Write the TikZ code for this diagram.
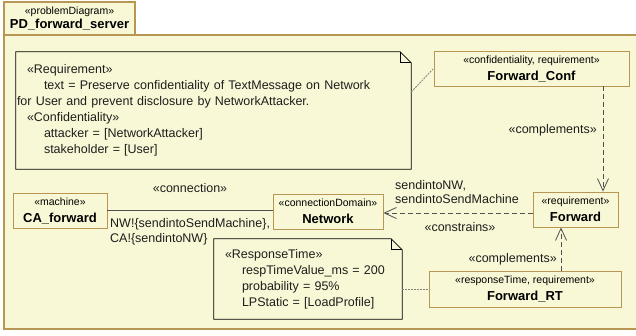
\documentclass[tikz,border=0pt]{standalone}
\usepackage{fontspec}
\setmainfont{Liberation Sans}
\usetikzlibrary{arrows.meta,calc}

\definecolor{paper}{RGB}{248,248,214}
\definecolor{gold}{RGB}{184,150,84}
\definecolor{ink}{RGB}{30,30,30}
\definecolor{linkgrey}{RGB}{80,80,80}

\newcommand\stereofont{\fontsize{10.5}{11}\selectfont}
\newcommand\namefont{\fontsize{13}{14}\selectfont\bfseries}
\newcommand\labelfont{\fontsize{12.5}{14.5}\selectfont}
\newcommand\notefont{\fontsize{12.5}{16}\selectfont}

% dog-eared note outline around a named node
\newcommand\noteoutline[1]{%
  \draw[noteedge] (#1.north west) -- ([xshift=-11pt]#1.north east)
    -- ([yshift=-11pt]#1.north east) -- (#1.south east) -- (#1.south west) -- cycle;
  \draw[noteedge] ([xshift=-11pt]#1.north east) -- ([xshift=-11pt,yshift=-11pt]#1.north east)
    -- ([yshift=-11pt]#1.north east);}

\tikzset{
  block/.style={draw=gold, fill=paper, line width=0.9pt, inner sep=0pt, align=center, text=black},
  notebody/.style={inner sep=0pt, align=left, text=ink, font=\notefont},
  noteedge/.style={draw=black, line width=0.8pt},
  tag/.style={font=\labelfont, inner sep=0pt, align=left, text=ink},
  dep/.style={draw=linkgrey, line width=0.8pt, dash pattern=on 5pt off 3pt,
    -{Straight Barb[length=12pt,width=11pt,line width=0.8pt]}},
  anchorlink/.style={draw=gray, line width=0.8pt, dash pattern=on 2pt off 1pt},
  assoc/.style={draw=linkgrey, line width=0.9pt}
}

\begin{document}
\begin{tikzpicture}[x=1pt, y=-1pt]
\useasboundingbox (0,0) rectangle (636,335);
\fill[white] (0,0) rectangle (636,335);

% diagram frame and its name tab
\fill[paper] (4,35) rectangle (636,329);
\draw[gold, line width=1.2pt] (636,35) -- (4,35) -- (4,329) -- (636,329);
\node[block, line width=1.2pt, minimum width=131, minimum height=33] (tab) at (69.5,18.5)
  {{\stereofont «problemDiagram»}\\[2pt]{\namefont PD\_forward\_server}};

% requirement note
\node[notebody, minimum width=395, minimum height=117, text width=393] (req) at (213.5,110.5)
  {\hspace*{10pt}«Requirement»\\
   \hspace*{27pt}text = Preserve confidentiality of TextMessage on Network\\
   for User and prevent disclosure by NetworkAttacker.\\
   \hspace*{10pt}«Confidentiality»\\
   \hspace*{27pt}attacker = [NetworkAttacker]\\
   \hspace*{27pt}stakeholder = [User]};
\noteoutline{req}

% response-time note
\node[notebody, minimum width=188, minimum height=80, text width=186] (rt) at (308,279)
  {\hspace*{10pt}«ResponseTime»\\
   \hspace*{27pt}respTimeValue\_ms = 200\\
   \hspace*{27pt}probability = 95\%\\
   \hspace*{27pt}LPStatic = [LoadProfile]};
\noteoutline{rt}

% classifiers
\node[block, minimum width=195, minimum height=35] (fconf) at (531.5,68.5)
  {{\stereofont «confidentiality, requirement»}\\[5pt]{\namefont Forward\_Conf}};
\node[block, minimum width=85, minimum height=35] (fwd) at (575.5,209.5)
  {{\stereofont «requirement»}\\[5pt]{\namefont Forward}};
\node[block, minimum width=110, minimum height=35] (net) at (328,211.5)
  {{\stereofont «connectionDomain»}\\[5pt]{\namefont Network}};
\node[block, minimum width=94, minimum height=35] (ca) at (60,210.5)
  {{\stereofont «machine»}\\[5pt]{\namefont CA\_forward}};
\node[block, minimum width=192, minimum height=36] (frt) at (525,289)
  {{\stereofont «responseTime, requirement»}\\[5pt]{\namefont Forward\_RT}};

% connection between machine and domain
\draw[assoc] (ca.east) -- (ca.east -| net.west);
\node[tag, anchor=center] (lconn) at (190,188) {«connection»};
\node[tag, anchor=west, text depth=0pt] (lph) at (110,230.5)
  {NW!\{sendintoSendMachine\},\\CA!\{sendintoNW\}};

% constrains dependency
\coordinate (cy) at (0,213);
\draw[dep] (fwd.west |- cy) -- (net.east |- cy);
\node[tag, anchor=west] (lsend) at (395,192) {sendintoNW,\\sendintoSendMachine};
\node[tag, anchor=center] (lcons) at (460,227) {«constrains»};

% complements dependencies
\coordinate (ux) at (603,0);
\draw[dep] (fconf.south -| ux) -- (fwd.north -| ux);
\node[tag, anchor=east] (lcomp1) at (597,130) {«complements»};
\coordinate (vx) at (561,0);
\draw[dep] (frt.north -| vx) -- (fwd.south -| vx);
\node[tag, anchor=east] (lcomp2) at (557,259) {«complements»};

% note anchors
\coordinate (ry) at (0,92);
\draw[anchorlink] (req.east |- ry) -- (fconf.west);
\draw[anchorlink] (rt.east |- frt.west) -- (frt.west);
\end{tikzpicture}
\end{document}
